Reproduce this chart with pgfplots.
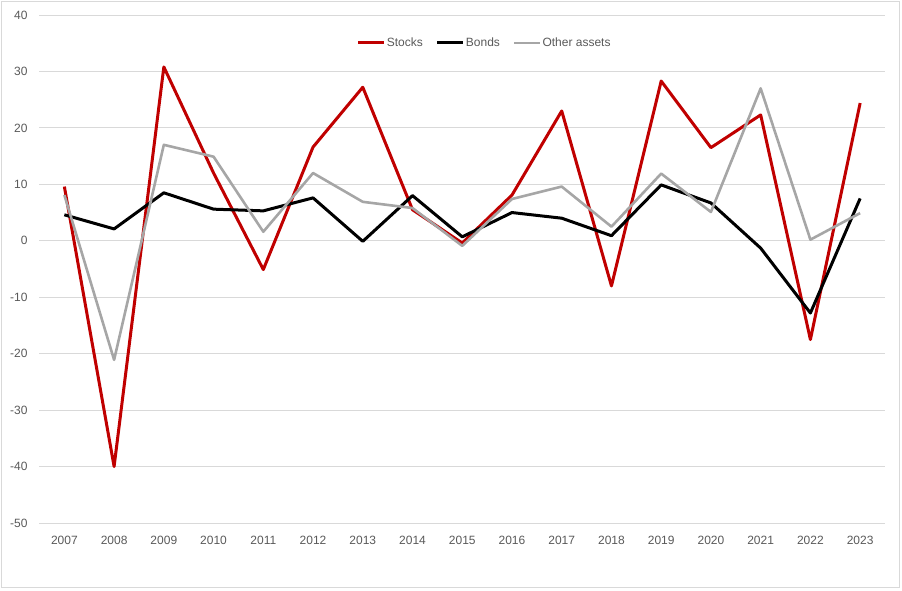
\documentclass[border=0pt]{standalone}
\usepackage{pgfplots}
\pgfplotsset{compat=1.18}
\usepackage{pgfplotstable}
\usepackage{fontspec}
\setmainfont{Liberation Sans}
\definecolor{stk}{HTML}{C00000}
\definecolor{oth}{HTML}{A6A6A6}
\definecolor{grd}{HTML}{D9D9D9}
\definecolor{txt}{HTML}{595959}
\pgfplotstableread{
x year stocks bonds other
0 2007 9.6 4.6 8.1
1 2008 -40.0 2.1 -21.1
2 2009 30.8 8.5 17.0
3 2010 12.0 5.6 14.9
4 2011 -5.1 5.3 1.6
5 2012 16.6 7.6 12.0
6 2013 27.2 -0.1 6.9
7 2014 5.5 8.0 5.8
8 2015 -0.4 0.7 -0.9
9 2016 8.1 5.0 7.4
10 2017 23.0 4.0 9.6
11 2018 -8.0 0.9 2.5
12 2019 28.3 9.9 11.9
13 2020 16.5 6.7 5.1
14 2021 22.3 -1.3 27.0
15 2022 -17.5 -12.8 0.2
16 2023 24.4 7.5 4.9
}\datatable
\begin{document}
\begin{tikzpicture}[x=1pt,y=1pt]
\useasboundingbox (0,0) rectangle (902,591);
\draw[grd, line width=0.8pt] (1.5,3.5) rectangle (899.5,589.5);
\begin{axis}[
  at={(39.5pt,68pt)}, anchor=south west,
  scale only axis, width=845.5pt, height=508pt,
  xmin=-0.5, xmax=16.5, ymin=-50, ymax=40,
  xtick=data, xticklabels={2007,2008,2009,2010,2011,2012,2013,2014,2015,2016,2017,2018,2019,2020,2021,2022,2023},
  ytick={-50,-40,...,40},
  ymajorgrids, grid style={grd, line width=0.8pt},
  axis line style={draw=none}, major tick length=0pt,
  tick style={draw=none},
  /pgf/number format/assume math mode=true,
  every tick label/.append style={font=\fontsize{12}{14}\selectfont, text=txt},
  xticklabel style={yshift=-9.5pt},
  yticklabel style={xshift=-8.5pt},
  legend style={at={(0.526,0.945)}, anchor=center, draw=none, fill=none,
    font=\fontsize{12}{14}\selectfont, text=txt,
    legend columns=3,
    /tikz/every even column/.append style={column sep=12pt},
    nodes={inner xsep=1pt}},
  legend image code/.code={\draw[#1] (0pt,0pt) -- (26pt,0pt);},
  line join=round,
]
\addplot[stk, line width=3pt, line join=round] table[x=x, y=stocks] {\datatable};
\addlegendentry{Stocks}
\addplot[black, line width=3pt, line join=round] table[x=x, y=bonds] {\datatable};
\addlegendentry{Bonds}
\addplot[oth, line width=2.6pt, line join=round] table[x=x, y=other] {\datatable};
\addlegendentry{Other assets}
\end{axis}
\end{tikzpicture}
\end{document}
